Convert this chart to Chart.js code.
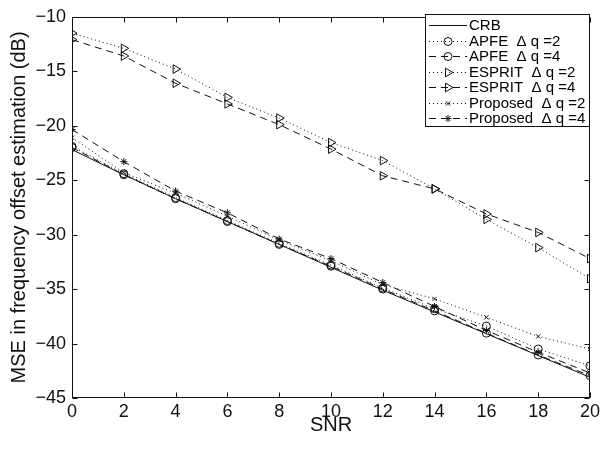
<!DOCTYPE html>
<html>
<head>
<meta charset="utf-8">
<script src="https://cdn.jsdelivr.net/npm/chart.js@4.4.1/dist/chart.umd.min.js"></script>
<style>
  html, body { margin: 0; padding: 0; background: #fff; }
  #wrap { width: 603px; height: 449px; }
</style>
</head>
<body>
<div id="wrap"><canvas id="c" width="603" height="449"></canvas></div>
<script>
// ---- data ----
const snr = [0, 2, 4, 6, 8, 10, 12, 14, 16, 18, 20];
const xTicks = [0, 2, 4, 6, 8, 10, 12, 14, 16, 18, 20];
const yTicks = [-45, -40, -35, -30, -25, -20, -15, -10];

const crb        = [-22.2, -24.5, -26.7, -28.8, -30.9, -33.0, -35.1, -37.1, -39.1, -41.1, -43.1];
const apfe2      = [-21.9, -24.4, -26.6, -28.7, -30.8, -32.8, -34.9, -36.8, -38.4, -40.5, -42.05];
const apfe4      = [-22.0, -24.5, -26.7, -28.8, -30.9, -32.9, -35.0, -37.0, -39.05, -41.05, -42.95];
const esprit2    = [-11.5, -12.9, -14.8, -17.4, -19.3, -21.55, -23.2, -25.8, -28.6, -31.2, -34.05];
const esprit4    = [-12.1, -13.6, -16.1, -18.0, -19.9, -22.15, -24.6, -25.8, -28.1, -29.8, -32.2];
const proposed2  = [-21.1, -24.3, -26.2, -28.3, -30.5, -32.4, -34.6, -35.9, -37.6, -39.35, -40.5];
const proposed4  = [-20.35, -23.3, -26.0, -28.0, -30.4, -32.2, -34.4, -36.6, -38.8, -40.8, -42.7];

const labels = ['CRB', 'APFE  \u0394 q =2', 'APFE  \u0394 q =4', 'ESPRIT  \u0394 q =2', 'ESPRIT  \u0394 q =4', 'Proposed  \u0394 q =2', 'Proposed  \u0394 q =4'];

const FONT = '"Liberation Sans", Arial, Helvetica, sans-serif';
const INK = '#111';
const DOT = [1, 3];
const DASH = [7, 5];

function pts(arr) { return snr.map((x, i) => ({ x: x, y: arr[i] })); }

function ds(label, arr, dash, style, radius, rot) {
  return {
    label: label,
    data: pts(arr),
    borderColor: INK,
    backgroundColor: 'rgba(0,0,0,0)',
    borderWidth: 1,
    borderDash: dash,
    pointStyle: style,
    pointRadius: radius,
    pointRotation: rot || 0,
    pointBorderColor: INK,
    pointBackgroundColor: 'rgba(0,0,0,0)',
    pointBorderWidth: 1,
    tension: 0,
    fill: false
  };
}

const datasets = [
  ds(labels[0], crb, [], 'circle', 0),
  ds(labels[1], apfe2, DOT, 'circle', 4),
  ds(labels[2], apfe4, DASH, 'circle', 4),
  ds(labels[3], esprit2, DOT, 'triangle', 5, 90),
  ds(labels[4], esprit4, DASH, 'triangle', 5, 90),
  ds(labels[5], proposed2, DOT, 'crossRot', 3),
  ds(labels[6], proposed4, DASH, 'star', 3.5)
];

function drawMarker(ctx, style, r, rot, x, y) {
  if (!r) return;
  if (Chart.helpers && Chart.helpers.drawPoint) {
    ctx.fillStyle = 'rgba(0,0,0,0)';
    ctx.strokeStyle = INK;
    ctx.lineWidth = 1;
    Chart.helpers.drawPoint(ctx, { pointStyle: style, radius: r, rotation: rot || 0, borderWidth: 1 }, x, y);
  }
}

const minusFmt = v => (v < 0 ? '\u2212' + Math.abs(v) : String(v));

const boxPlugin = {
  id: 'boxPlugin',
  afterDraw(chart) {
    const ctx = chart.ctx;
    const a = chart.chartArea;
    const xs = chart.scales.x, ys = chart.scales.y;
    const L = Math.round(a.left) + 0.5, R = Math.round(a.right) - 0.5;
    const T = Math.round(a.top) + 0.5, B = Math.round(a.bottom) - 0.5;
    ctx.save();
    ctx.strokeStyle = INK;
    ctx.lineWidth = 1;
    ctx.setLineDash([]);
    ctx.strokeRect(L, T, R - L, B - T);
    const tl = 5;
    ctx.beginPath();
    xTicks.forEach(v => {
      const px = Math.round(xs.getPixelForValue(v)) + 0.5;
      ctx.moveTo(px, B); ctx.lineTo(px, B - tl);
      ctx.moveTo(px, T); ctx.lineTo(px, T + tl);
    });
    yTicks.forEach(v => {
      const py = Math.round(ys.getPixelForValue(v)) + 0.5;
      ctx.moveTo(L, py); ctx.lineTo(L + tl, py);
      ctx.moveTo(R, py); ctx.lineTo(R - tl, py);
    });
    ctx.stroke();

    // legend box (inside the axes, top right)
    const bx = 425.5, by = 14.5, bw = 164, bh = 112;
    ctx.fillStyle = '#fff';
    ctx.fillRect(bx, by, bw, bh);
    ctx.strokeRect(bx, by, bw, bh);
    chart.data.datasets.forEach((d, i) => {
      const y = Math.round(25 + i * 15.5) + 0.5;
      ctx.strokeStyle = INK;
      ctx.lineWidth = 1;
      ctx.setLineDash(d.borderDash);
      ctx.beginPath();
      ctx.moveTo(429, y); ctx.lineTo(467, y);
      ctx.stroke();
      ctx.setLineDash([]);
      drawMarker(ctx, d.pointStyle, d.pointRadius, d.pointRotation, 448, y);
      ctx.font = '15px ' + FONT;
      ctx.textBaseline = 'middle';
      ctx.textAlign = 'left';
      ctx.fillStyle = '#000';
      ctx.fillText(d.label, 469, y + 0.5);
    });
    ctx.restore();
  }
};

new Chart(document.getElementById('c'), {
  type: 'line',
  data: { datasets: datasets },
  plugins: [boxPlugin],
  options: {
    responsive: false,
    animation: false,
    devicePixelRatio: 1,
    layout: { padding: { top: 9, right: 11, left: 0, bottom: 0 } },
    plugins: { legend: { display: false }, tooltip: { enabled: false } },
    elements: { line: { tension: 0 } },
    scales: {
      x: {
        type: 'linear',
        min: 0, max: 20,
        afterBuildTicks: s => { s.ticks = xTicks.map(v => ({ value: v })); },
        afterFit: s => { s.height = 51; },
        grid: { display: false, drawTicks: false },
        border: { display: false },
        ticks: { font: { family: FONT, size: 18 }, color: '#111', padding: 3, maxRotation: 0 },
        title: { display: true, text: 'SNR', font: { family: FONT, size: 20 }, color: '#111', padding: { top: 0, bottom: 12 } }
      },
      y: {
        type: 'linear',
        min: -45, max: -10,
        afterBuildTicks: s => { s.ticks = yTicks.map(v => ({ value: v })); },
        afterFit: s => { s.width = 72; },
        grid: { display: false, drawTicks: false },
        border: { display: false },
        ticks: { font: { family: FONT, size: 18 }, color: '#111', padding: 6, callback: minusFmt },
        title: { display: true, text: 'MSE in frequency offset estimation (dB)', font: { family: FONT, size: 20 }, color: '#111', padding: { top: 7, bottom: 0 } }
      }
    }
  }
});
</script>
</body>
</html>
